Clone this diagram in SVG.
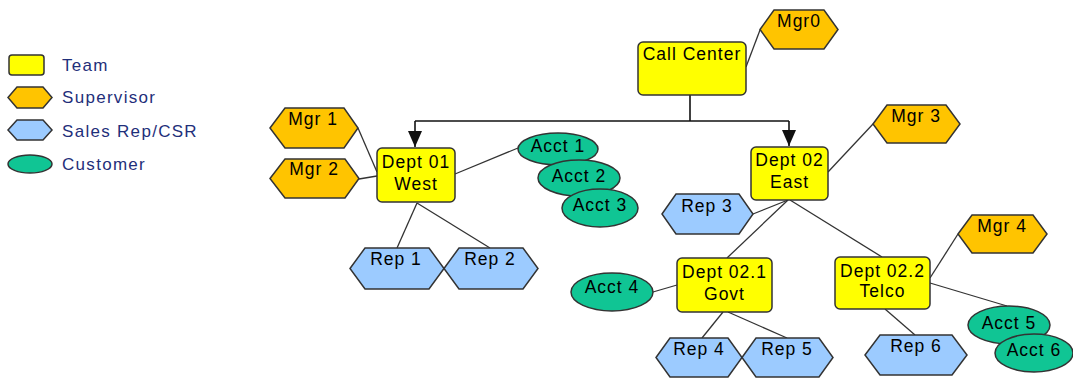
<svg xmlns="http://www.w3.org/2000/svg" width="1073" height="379" viewBox="0 0 1073 379">
<defs>
<style>
.team{fill:#FFFF00;stroke:#333;stroke-width:1.5}
.sup{fill:#FFC400;stroke:#333;stroke-width:1.5}
.rep{fill:#9CCBFF;stroke:#333;stroke-width:1.5}
.cust{fill:#10C594;stroke:#333;stroke-width:1.5}
.lbl{font-family:"Liberation Sans",Arial,sans-serif;font-size:17.5px;letter-spacing:1px;fill:#000;text-anchor:middle}
.leg{font-family:"Liberation Sans",Arial,sans-serif;font-size:17px;letter-spacing:1.3px;fill:#1F2F7A}
.ln{stroke:#333;stroke-width:1.3;fill:none}
.tree{stroke:#111;stroke-width:1.6;fill:none}
</style>
<marker id="arr" markerUnits="userSpaceOnUse" markerWidth="16" markerHeight="14" refX="16" refY="7" orient="auto" viewBox="0 0 16 14">
<path d="M0,0 L16,7 L0,14 Z" fill="#111"/>
</marker>
</defs>
<rect width="1073" height="379" fill="#fff"/>

<g id="legend">
<rect class="team" x="9" y="55" width="35" height="20" rx="3"/>
<text class="leg" x="62" y="71">Team</text>
<polygon class="sup" points="8,97.5 17,87 43,87 52,97.5 43,108 17,108"/>
<text class="leg" x="62" y="103">Supervisor</text>
<polygon class="rep" points="8,130 17,120 43,120 52,130 43,140 17,140"/>
<text class="leg" x="62" y="137">Sales Rep/CSR</text>
<ellipse class="cust" cx="30" cy="164" rx="22" ry="9"/>
<text class="leg" x="62" y="170">Customer</text>
</g>

<g id="connectors">
<line class="ln" x1="760" y1="30" x2="746" y2="67"/>
<polyline class="tree" points="690,95 690,121"/>
<polyline class="tree" points="415,121 789,121"/>
<line class="tree" x1="415" y1="121" x2="415" y2="147" marker-end="url(#arr)"/>
<line class="tree" x1="789" y1="121" x2="789" y2="146" marker-end="url(#arr)"/>
<line class="ln" x1="358" y1="128" x2="377" y2="172"/>
<line class="ln" x1="359" y1="179" x2="377" y2="176"/>
<line class="ln" x1="455" y1="174" x2="518" y2="148"/>
<line class="ln" x1="417" y1="203" x2="397" y2="248"/>
<line class="ln" x1="417" y1="203" x2="490" y2="248"/>
<line class="ln" x1="828" y1="172" x2="873" y2="124"/>
<line class="ln" x1="788" y1="200" x2="753" y2="214"/>
<line class="ln" x1="788" y1="200" x2="727" y2="258"/>
<line class="ln" x1="790" y1="200" x2="882" y2="257"/>
<line class="ln" x1="653" y1="292" x2="677" y2="285"/>
<line class="ln" x1="723" y1="312" x2="702" y2="338"/>
<line class="ln" x1="728" y1="312" x2="787" y2="338"/>
<line class="ln" x1="930" y1="278" x2="958" y2="234"/>
<line class="ln" x1="930" y1="283" x2="1007" y2="306"/>
<line class="ln" x1="885" y1="309" x2="915" y2="335"/>
</g>

<g id="call-center">
<rect class="team" x="638" y="42" width="108" height="53" rx="5"/>
<text class="lbl" x="692" y="60">Call Center</text>
</g>
<g id="mgr0">
<polygon class="sup" points="760,29.5 774,10 824,10 838,29.5 824,49 774,49"/>
<text class="lbl" x="799" y="27">Mgr0</text>
</g>

<g id="dept01">
<rect class="team" x="377" y="148" width="78" height="54" rx="5"/>
<text class="lbl" x="416" y="168">Dept 01</text>
<text class="lbl" x="416" y="190">West</text>
</g>
<g id="mgr1">
<polygon class="sup" points="270,128 285,108 344,108 358,128 344,148 285,148"/>
<text class="lbl" x="313" y="125">Mgr 1</text>
</g>
<g id="mgr2">
<polygon class="sup" points="270,178.5 285,159 345,159 359,178.5 345,198 285,198"/>
<text class="lbl" x="314" y="175">Mgr 2</text>
</g>
<g id="acct1">
<ellipse class="cust" cx="558" cy="149" rx="40" ry="16"/>
<text class="lbl" x="558" y="152">Acct 1</text>
</g>
<g id="acct2">
<ellipse class="cust" cx="579" cy="178" rx="41" ry="18"/>
<text class="lbl" x="579" y="182">Acct 2</text>
</g>
<g id="acct3">
<ellipse class="cust" cx="600" cy="208" rx="38" ry="19"/>
<text class="lbl" x="600" y="211">Acct 3</text>
</g>
<g id="rep1">
<polygon class="rep" points="350,268.5 365,248 429,248 444,268.5 429,289 365,289"/>
<text class="lbl" x="396" y="265">Rep 1</text>
</g>
<g id="rep2">
<polygon class="rep" points="444,268.5 459,248 523,248 538,268.5 523,289 459,289"/>
<text class="lbl" x="490" y="265">Rep 2</text>
</g>

<g id="dept02">
<rect class="team" x="751" y="147" width="77" height="53" rx="5"/>
<text class="lbl" x="789.5" y="166">Dept 02</text>
<text class="lbl" x="789.5" y="188">East</text>
</g>
<g id="mgr3">
<polygon class="sup" points="873,124 887,105 946,105 960,124 946,143 887,143"/>
<text class="lbl" x="916" y="122">Mgr 3</text>
</g>
<g id="rep3">
<polygon class="rep" points="662,214 676,194 739,194 753,214 739,234 676,234"/>
<text class="lbl" x="707" y="212">Rep 3</text>
</g>

<g id="dept021">
<rect class="team" x="677" y="258" width="95" height="54" rx="5"/>
<text class="lbl" x="724.5" y="278">Dept 02.1</text>
<text class="lbl" x="724.5" y="300">Govt</text>
</g>
<g id="acct4">
<ellipse class="cust" cx="612" cy="292" rx="41" ry="19"/>
<text class="lbl" x="612" y="293">Acct 4</text>
</g>
<g id="rep4">
<polygon class="rep" points="656,357.5 670,338 728,338 742,357.5 728,377 670,377"/>
<text class="lbl" x="699" y="355">Rep 4</text>
</g>
<g id="rep5">
<polygon class="rep" points="742,357.5 756,338 819,338 833,357.5 819,377 756,377"/>
<text class="lbl" x="787" y="355">Rep 5</text>
</g>

<g id="dept022">
<rect class="team" x="835" y="257" width="95" height="52" rx="5"/>
<text class="lbl" x="882.5" y="277">Dept 02.2</text>
<text class="lbl" x="882.5" y="297">Telco</text>
</g>
<g id="mgr4">
<polygon class="sup" points="958,234 972,215 1033,215 1047,234 1033,253 972,253"/>
<text class="lbl" x="1002" y="232">Mgr 4</text>
</g>
<g id="rep6">
<polygon class="rep" points="865,355 880,335 952,335 967,355 952,375 880,375"/>
<text class="lbl" x="916" y="352">Rep 6</text>
</g>
<g id="acct5">
<ellipse class="cust" cx="1009" cy="325" rx="41" ry="19"/>
<text class="lbl" x="1009" y="329">Acct 5</text>
</g>
<g id="acct6">
<ellipse class="cust" cx="1034" cy="353" rx="39" ry="19"/>
<text class="lbl" x="1034" y="356">Acct 6</text>
</g>
</svg>
